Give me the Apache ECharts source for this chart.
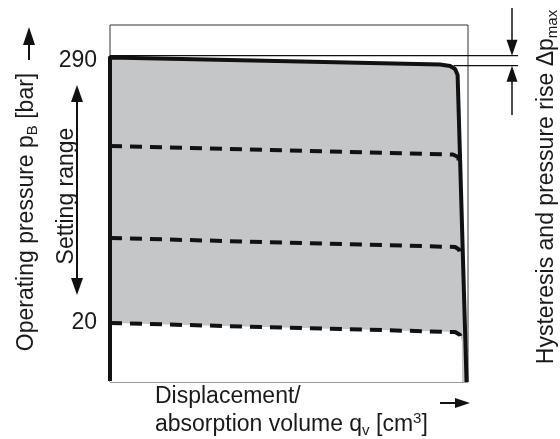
<!DOCTYPE html>
<html><head><meta charset="utf-8">
<script src="https://cdn.jsdelivr.net/npm/echarts@6/dist/echarts.min.js"></script>
<style>html,body{margin:0;padding:0;background:#fff}#c{width:560px;height:439px}</style>
</head><body><div id="c"></div>
<script>
// y tick labels shown on the pressure axis
const yTickLabels = [290, 20];
// upper limit characteristic: [displacement % , pressure bar]
const limitCurve = [[0,-39],[0,290],[50,286.1],[92.2,282.8],[95,281.3],[96.4,278.3],[97.1,272.2],[99.6,-40]];
// lower setting characteristics (dashed)
const setHigh = [[0,200],[95.8,191.3],[97.2,188.8],[97.6,182.7]];
const setMid  = [[0,106.4],[96.4,97.3],[97.5,94.7],[97.9,88.1]];
const setLow  = [[0,20],[96.4,10.8],[97.8,7.8],[98.3,0.7]];
// hysteresis band (pressure values of the two thin marker lines)
const hysteresisBand = [291.8, 281.6];

const FONT = "'Liberation Sans', Arial, Helvetica, sans-serif";
const INK = '#111';
const GRAY = '#c5c6c8';

const chart = echarts.init(document.getElementById('c'), null, {renderer:'canvas'});
const dashStyle = {color: INK, width: 4, type: [12, 8]};
chart.setOption({
  animation: false,
  backgroundColor: '#fff',
  grid: {left:110, top:25, width:358, height:357, show:true, borderColor:'#333', borderWidth:1, containLabel:false},
  xAxis: {type:'value', min:0, max:100, show:false},
  yAxis: {type:'value', min:-40, max:323, interval:10,
    axisLine:{show:false}, axisTick:{show:false}, splitLine:{show:false},
    axisLabel:{margin:13, fontSize:23, color:'#1a1a1a', fontFamily:FONT,
      formatter: v => v === 290 ? '{hi|290}' : (yTickLabels.includes(v) ? String(v) : ''),
      rich:{hi:{fontSize:23, fontFamily:FONT, color:'#1a1a1a', padding:[6,0,0,0]}}}},
  series: [
    {type:'line', data:limitCurve, symbol:'none', z:1, silent:true,
      lineStyle:{width:0, opacity:0}, areaStyle:{color:GRAY, opacity:1, origin:'start'}},
    {type:'line', data:setLow, symbol:'none', z:2, silent:true,
      lineStyle:dashStyle, areaStyle:{color:'#fff', opacity:1, origin:'start'}},
    {type:'line', data:setMid, symbol:'none', z:3, silent:true, lineStyle:dashStyle},
    {type:'line', data:setHigh, symbol:'none', z:3, silent:true, lineStyle:dashStyle},
    {type:'line', data:limitCurve, symbol:'none', z:4, silent:true,
      lineStyle:{color:INK, width:4, join:'round'}}
  ]
});

const hiY = chart.convertToPixel({gridIndex:0}, [0, hysteresisBand[0]])[1];
const loY = chart.convertToPixel({gridIndex:0}, [0, hysteresisBand[1]])[1];
const leftX = chart.convertToPixel({gridIndex:0}, [0, 0])[0];
const loStartX = chart.convertToPixel({gridIndex:0}, [96, 0])[0];

function line(x1,y1,x2,y2,w){return {type:'line', shape:{x1,y1,x2,y2}, style:{stroke:INK, lineWidth:w||1.5}, z:10};}
function head(tx,ty,dir,len,hw){
  let pts;
  if(dir==='up') pts=[[tx,ty],[tx-hw,ty+len],[tx+hw,ty+len]];
  else if(dir==='down') pts=[[tx,ty],[tx-hw,ty-len],[tx+hw,ty-len]];
  else pts=[[tx,ty],[tx-len,ty-hw],[tx-len,ty+hw]];
  return {type:'polygon', shape:{points:pts}, style:{fill:INK}, z:10};
}
const rich = {
  n:{fontSize:23, fontFamily:FONT, color:'#1a1a1a', lineHeight:27},
  s:{fontSize:15, fontFamily:FONT, color:'#1a1a1a', lineHeight:15, verticalAlign:'bottom'},
  u:{fontSize:15, fontFamily:FONT, color:'#1a1a1a', lineHeight:15, verticalAlign:'top'}
};
function txt(x,y,t,rot,align){
  return {type:'text', x, y, rotation:rot||0, z:11,
    style:{text:t, rich, align:align||'center', verticalAlign:'middle', fontSize:23, fontFamily:FONT, fill:'#1a1a1a'}};
}
const RX = 512;
chart.setOption({graphic:[
  line(leftX, hiY, 518, hiY, 1.2),
  line(loStartX, loY, 518, loY, 1.2),
  line(RX, 8, RX, hiY-14, 1.5), head(RX, hiY, 'down', 16, 5.5),
  line(RX, loY+14, RX, 115, 1.5), head(RX, loY, 'up', 16, 5.5),
  line(29, 60, 29, 42, 2), head(29, 27, 'up', 18, 6),
  line(77, 100, 77, 280, 2), head(77, 85, 'up', 17, 6), head(77, 295, 'down', 17, 6),
  line(440, 403, 457, 403, 2), head(470, 403, 'right', 15, 5),
  txt(27, 212, '{n|Operating pressure p}{s|B}{n| [bar]}', Math.PI/2),
  txt(67, 196, '{n|Setting range}', Math.PI/2),
  txt(155, 397, '{n|Displacement/}', 0, 'left'),
  txt(155, 425, '{n|absorption volume q}{s|v}{n| [cm}{u|3}{n|]}', 0, 'left'),
  txt(547, 187, '{n|Hysteresis and pressure rise \u0394p}{s|max}', Math.PI/2)
]});
</script></body></html>
